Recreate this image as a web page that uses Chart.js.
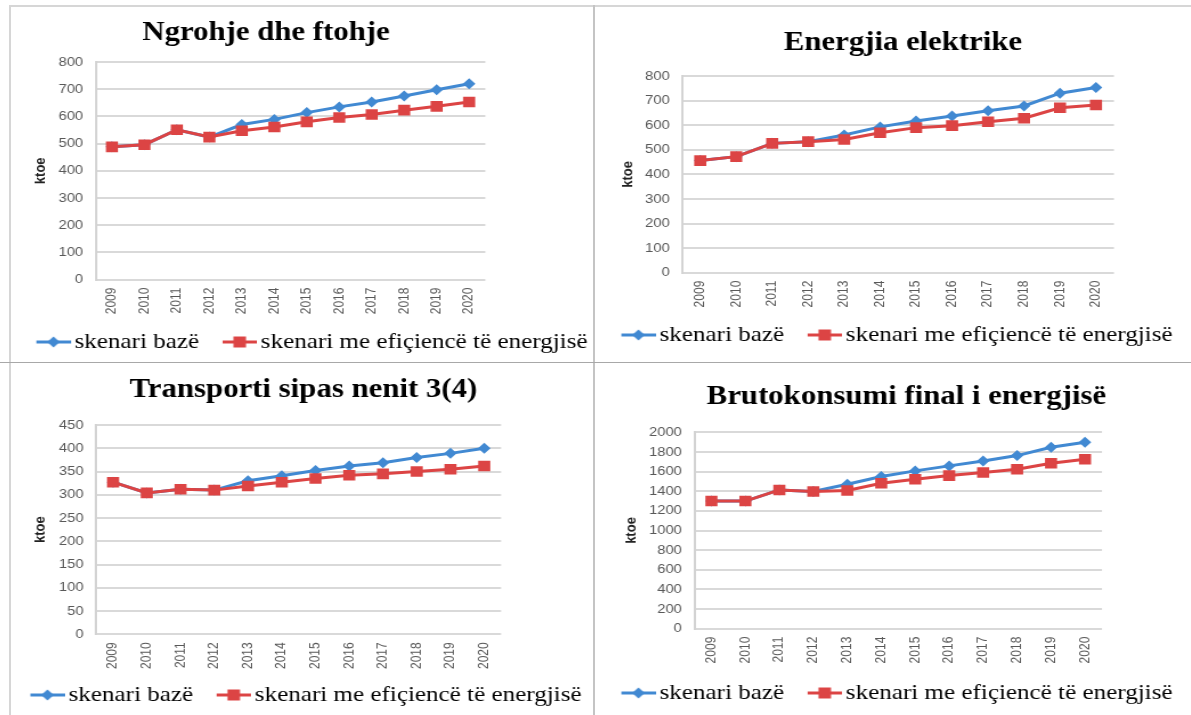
<!DOCTYPE html>
<html><head><meta charset="utf-8">
<script src="https://cdn.jsdelivr.net/npm/chart.js@4.4.0/dist/chart.umd.min.js"></script>
<style>
html,body{margin:0;padding:0;background:#fff;width:1191px;height:715px;overflow:hidden;position:relative}
.wrap{position:absolute;transform-origin:0 0}
.wrap canvas{display:block}
.rule{position:absolute}
</style></head><body>
<div class="rule" style="left:10px;top:5px;width:1181px;height:2px;background:#d6d6d6"></div>
<div class="rule" style="left:9px;top:5px;width:2px;height:710px;background:#d6d6d6"></div>
<div class="rule" style="left:593px;top:5px;width:2px;height:710px;background:#c4c4c4"></div>
<div class="rule" style="left:0;top:362px;width:1191px;height:1px;background:#a8a8a8"></div>

<div class="wrap" id="w1"><canvas id="c1"></canvas></div>
<div class="wrap" id="w2"><canvas id="c2"></canvas></div>
<div class="wrap" id="w3"><canvas id="c3"></canvas></div>
<div class="wrap" id="w4"><canvas id="c4"></canvas></div>

<script>
// ---- data ----
const years = ['2009','2010','2011','2012','2013','2014','2015','2016','2017','2018','2019','2020'];
const seriesNames = ['skenari bazë', 'skenari me efiçiencë të energjisë'];
const axisTitle = 'ktoe';

const heatingTitle = 'Ngrohje dhe ftohje';
const heatingBase = [488, 496, 551, 524, 570, 589, 614, 635, 653, 675, 698, 720];
const heatingEff  = [488, 496, 551, 524, 547, 561, 580, 596, 607, 623, 637, 653];

const electricTitle = 'Energjia elektrike';
const electricBase = [456, 472, 526, 533, 560, 593, 617, 637, 659, 678, 730, 753];
const electricEff  = [456, 472, 526, 533, 542, 569, 590, 598, 614, 628, 671, 682];

const transportTitle = 'Transporti sipas nenit 3(4)';
const transportBase = [327, 304, 312, 310, 330, 341, 352, 362, 369, 380, 389, 400];
const transportEff  = [327, 304, 312, 310, 319, 327, 335, 342, 345, 350, 355, 362];

const grossTitle = 'Brutokonsumi final i energjisë';
const grossBase = [1300, 1300, 1413, 1397, 1471, 1549, 1607, 1658, 1708, 1763, 1847, 1898];
const grossEff  = [1300, 1300, 1413, 1397, 1407, 1481, 1522, 1559, 1590, 1624, 1685, 1725];

const heatingTicks = {min: 0, max: 800, step: 100};
const electricTicks = {min: 0, max: 800, step: 100};
const transportTicks = {min: 0, max: 450, step: 50};
const grossTicks = {min: 0, max: 2000, step: 200};

// ---- style ----
const BLUE = '#4189d2';
const RED = '#dc4444';
const S = 1.14; // horizontal stretch of the reference picture
const SERIF = "'Liberation Serif', 'Times New Roman', serif";
const SANS = "'Liberation Sans', Arial, sans-serif";

function makeIcon(color, shape) {
  const c = document.createElement('canvas');
  c.width = 54; c.height = 16;
  const g = c.getContext('2d');
  g.strokeStyle = color; g.lineWidth = 3;
  g.beginPath(); g.moveTo(24, 8); g.lineTo(54, 8); g.stroke();
  g.fillStyle = color;
  g.beginPath();
  if (shape === 'diamond') {
    g.moveTo(33.5, 8); g.lineTo(39, 2.5); g.lineTo(44.5, 8); g.lineTo(39, 13.5); g.closePath();
  } else {
    g.rect(33.5, 2.5, 11, 11);
  }
  g.fill();
  return c;
}
const icons = [makeIcon(BLUE, 'diamond'), makeIcon(RED, 'square')];

const panels = [
  {id: 1, title: heatingTitle, base: heatingBase, eff: heatingEff, t: heatingTicks,
   L: -60, T: 5, W: 572, H: 358, align: 'end', tp: [11.8, 12.8], yl: 136.6, yr: 93.6, xh: 47.4, kp: 81},
  {id: 2, title: electricTitle, base: electricBase, eff: electricEff, t: electricTicks,
   L: 598, T: 5, W: 535, H: 351, align: 'start', tp: [21.8, 16.8], yl: 73.9, yr: 82.4, xh: 47.3, kp: 19},
  {id: 3, title: transportTitle, base: transportBase, eff: transportEff, t: transportTicks,
   L: 6.5, T: 365, W: 520, H: 351, align: 'start', tp: [8.8, 18.8], yl: 78.2, yr: 86.6, xh: 45.7, kp: 22},
  {id: 4, title: grossTitle, base: grossBase, eff: grossEff, t: grossTicks,
   L: 598, T: 365, W: 541, H: 349, align: 'start', tp: [15.5, 19.4], yl: 84.6, yr: 98.9, xh: 49.3, kp: 21.5}
];

const yTickFont = {family: SANS, size: 13};
const xTickFont = {family: SANS, size: 12};

panels.forEach(p => {
  const wrap = document.getElementById('w' + p.id);
  wrap.style.left = p.L + 'px';
  wrap.style.top = p.T + 'px';
  wrap.style.transform = 'scaleX(' + S + ')';
  const cv = document.getElementById('c' + p.id);
  cv.width = p.W; cv.height = p.H;
  cv.style.width = p.W + 'px'; cv.style.height = p.H + 'px';

  new Chart(cv, {
    type: 'line',
    data: {
      labels: years,
      datasets: [
        {label: seriesNames[0], data: p.base, yAxisID: 'y', order: 1,
         borderColor: BLUE, backgroundColor: BLUE, borderWidth: 3,
         pointStyle: 'rectRot', pointRadius: 5.5, pointBorderWidth: 0, pointBackgroundColor: BLUE, tension: 0},
        {label: seriesNames[1], data: p.eff, yAxisID: 'y', order: 0,
         borderColor: RED, backgroundColor: RED, borderWidth: 3,
         pointStyle: 'rect', pointRadius: 7.5, pointBorderWidth: 0, pointBackgroundColor: RED, tension: 0}
      ]
    },
    options: {
      responsive: false,
      animation: false,
      layout: {padding: 0},
      plugins: {
        tooltip: {enabled: false},
        title: {
          display: true, text: p.title, color: '#000',
          font: {family: SERIF, size: 27, weight: 'bold'},
          padding: {top: p.tp[0], bottom: p.tp[1]}
        },
        legend: {
          position: 'bottom', align: p.align,
          labels: {
            usePointStyle: true, pointStyleWidth: 39, padding: 4,
            color: '#000', font: {family: SERIF, size: 22, weight: 'normal'},
            generateLabels: chart => chart.data.datasets.map((ds, i) => ({
              text: ds.label, pointStyle: icons[i], fillStyle: ds.backgroundColor,
              strokeStyle: ds.borderColor, lineWidth: 0, hidden: false, datasetIndex: i, fontColor: '#000'
            }))
          }
        }
      },
      scales: {
        x: {
          type: 'category', offset: true,
          grid: {display: false, drawTicks: false},
          border: {display: false},
          ticks: {minRotation: 90, maxRotation: 90, autoSkip: false, padding: 8, font: xTickFont, color: '#595959'},
          afterFit: s => { s.height = p.xh; }
        },
        y: {
          position: 'left', min: p.t.min, max: p.t.max,
          ticks: {stepSize: p.t.step, padding: 11, font: yTickFont, color: '#595959',
                  callback: v => String(v)},
          grid: {color: '#d9d9d9', lineWidth: 2, drawTicks: false},
          border: {display: true, color: '#d3d3d3', width: 2},
          title: {display: true, text: axisTitle, color: '#222',
                  font: {family: SANS, size: 13, weight: 'bold'},
                  padding: {top: p.kp, bottom: 0}},
          afterFit: s => { s.width = p.yl; }
        },
        yR: {
          position: 'right', display: true,
          grid: {display: false, drawTicks: false},
          border: {display: false},
          ticks: {display: false},
          afterFit: s => { s.width = p.yr; }
        }
      }
    }
  });
});
</script>
</body></html>
